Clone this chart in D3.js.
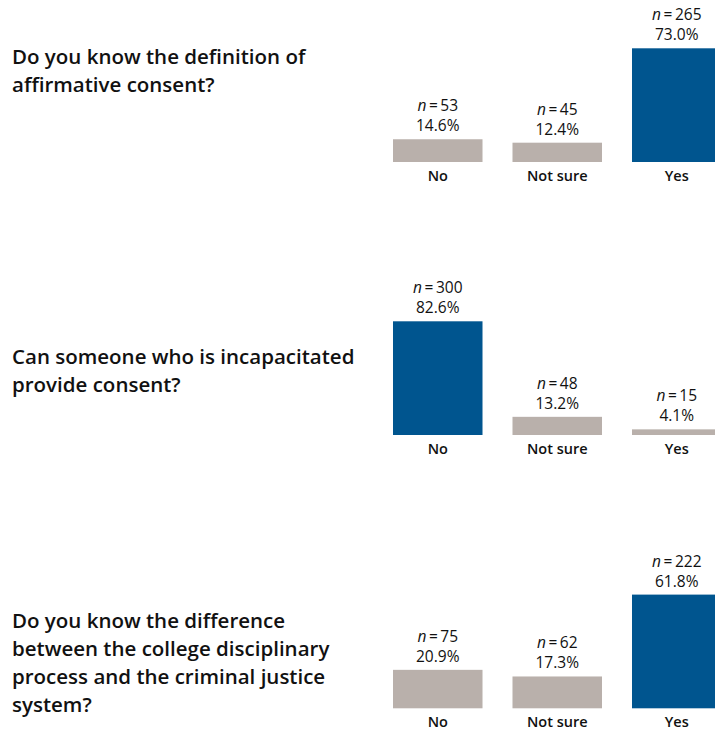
<!DOCTYPE html>
<html>
<head>
<meta charset="utf-8">
<script src="https://cdn.jsdelivr.net/npm/d3@7"></script>
<style>
  html, body { margin: 0; padding: 0; background: #fff; }
  svg { display: block; }
</style>
</head>
<body>
<svg id="chart" width="715" height="731"></svg>
<script>
// ---- data ----
const categories = ["No", "Not sure", "Yes"];
const questions = [
  ["Do you know the definition of", "affirmative consent?"],
  ["Can someone who is incapacitated", "provide consent?"],
  ["Do you know the difference", "between the college disciplinary", "process and the criminal justice", "system?"]
];
const counts = [
  [53, 45, 265],
  [300, 48, 15],
  [75, 62, 222]
];
const percents = [
  [14.6, 12.4, 73.0],
  [82.6, 13.2, 4.1],
  [20.9, 17.3, 61.8]
];
const correctAnswer = ["Yes", "No", "Yes"];

// ---- layout ----
const svg = d3.select("#chart");
const baselines = [162, 435, 708.3];
const barMaxH = 113.7;
const questionFirstBaseline = [64, 364, 628];
const lineH = 28;
const blue = "#00558F";
const grey = "#B9B0AB";
const qFont = "'Open Sans', 'Noto Sans', sans-serif";
const lblFont = "'Open Sans', 'Noto Sans', sans-serif";

const x = d3.scaleBand()
  .domain(categories)
  .range([378, 736.5])
  .paddingInner(0.251)
  .paddingOuter(0.1255);

questions.forEach((q, i) => {
  const g = svg.append("g");
  const base = baselines[i];
  const y = d3.scaleLinear()
    .domain([0, d3.max(percents[i])])
    .range([base, base - barMaxH]);

  // question text
  const qt = g.append("text")
    .attr("font-family", qFont)
    .attr("font-weight", 600)
    .attr("font-size", 20.5)
    .attr("fill", "#111");
  q.forEach((line, j) => {
    qt.append("tspan")
      .attr("x", 12)
      .attr("y", questionFirstBaseline[i] + j * lineH)
      .text(line);
  });

  const data = categories.map((c, k) => ({
    cat: c, n: counts[i][k], p: percents[i][k]
  }));

  g.selectAll("rect.bar").data(data).join("rect")
    .attr("class", "bar")
    .attr("x", d => x(d.cat))
    .attr("width", x.bandwidth())
    .attr("y", d => y(d.p))
    .attr("height", d => base - y(d.p))
    .attr("fill", d => d.cat === correctAnswer[i] ? blue : grey);

  // percent labels
  g.selectAll("text.pct").data(data).join("text")
    .attr("class", "pct")
    .attr("x", d => x(d.cat) + x.bandwidth() / 2)
    .attr("y", d => y(d.p) - 8)
    .attr("text-anchor", "middle")
    .attr("font-family", lblFont)
    .attr("font-weight", 500)
    .attr("font-size", 15.5)
    .attr("fill", "#111")
    .text(d => d.p.toFixed(1) + "%");

  // n labels
  const nl = g.selectAll("text.n").data(data).join("text")
    .attr("class", "n")
    .attr("x", d => x(d.cat) + x.bandwidth() / 2)
    .attr("y", d => y(d.p) - 28)
    .attr("text-anchor", "middle")
    .attr("font-family", lblFont)
    .attr("font-weight", 500)
    .attr("font-size", 15.5)
    .attr("fill", "#111");
  nl.append("tspan").attr("font-style", "italic").text("n");
  nl.append("tspan").text(d => "\u2009=\u2009" + d.n);

  // category labels
  g.selectAll("text.cat").data(data).join("text")
    .attr("class", "cat")
    .attr("x", d => x(d.cat) + x.bandwidth() / 2)
    .attr("y", base + 19)
    .attr("text-anchor", "middle")
    .attr("font-family", lblFont)
    .attr("font-weight", 600)
    .attr("font-size", 14.5)
    .attr("fill", "#111")
    .text(d => d.cat);
});
</script>
</body>
</html>
